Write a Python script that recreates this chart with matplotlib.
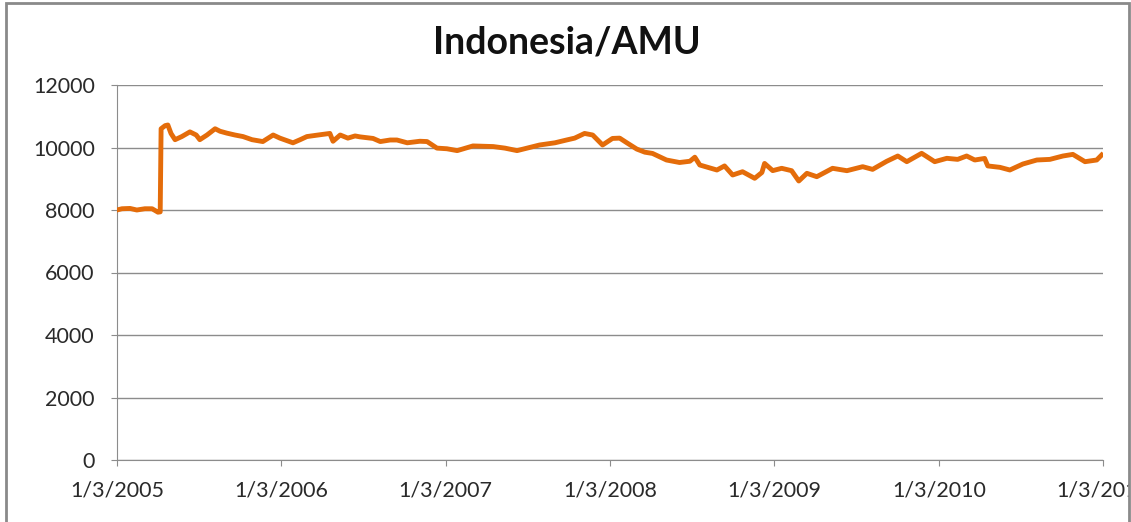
import matplotlib
matplotlib.use('Agg')
import matplotlib.pyplot as plt
from matplotlib.patches import Rectangle
import pandas as pd

## 값 (그림에서 읽은 대략적인 값)
dates = ['2005-01-03', '2005-01-14', '2005-02-01', '2005-02-16', '2005-03-06', '2005-03-22',
         '2005-04-04', '2005-04-09', '2005-04-11', '2005-04-20', '2005-04-26', '2005-05-03',
         '2005-05-12', '2005-05-27', '2005-06-14', '2005-06-28', '2005-07-06', '2005-07-22',
         '2005-08-09', '2005-08-20', '2005-09-04', '2005-09-22', '2005-10-10', '2005-10-30',
         '2005-11-23', '2005-12-16', '2005-12-31', '2006-01-29', '2006-02-14', '2006-03-01',
         '2006-03-26', '2006-04-21', '2006-04-28', '2006-05-14', '2006-05-31', '2006-06-16',
         '2006-06-27', '2006-07-26', '2006-08-11', '2006-09-02', '2006-09-17', '2006-10-10',
         '2006-11-07', '2006-11-23', '2006-12-15', '2007-01-06', '2007-01-29', '2007-03-05',
         '2007-04-19', '2007-05-15', '2007-06-11', '2007-07-31', '2007-09-03', '2007-09-29',
         '2007-10-17', '2007-11-08', '2007-11-26', '2007-12-18', '2008-01-09', '2008-01-25',
         '2008-02-10', '2008-03-03', '2008-03-21', '2008-04-07', '2008-05-08', '2008-06-06',
         '2008-06-29', '2008-07-10', '2008-07-21', '2008-08-28', '2008-09-14', '2008-10-02',
         '2008-10-24', '2008-11-20', '2008-12-06', '2008-12-12', '2008-12-30', '2009-01-19',
         '2009-02-10', '2009-02-26', '2009-03-16', '2009-04-07', '2009-05-12', '2009-06-13',
         '2009-07-18', '2009-08-09', '2009-09-09', '2009-10-04', '2009-10-24', '2009-11-26',
         '2009-12-25', '2010-01-21', '2010-02-14', '2010-03-06', '2010-03-24', '2010-04-15',
         '2010-04-22', '2010-05-19', '2010-06-10', '2010-07-09', '2010-08-09', '2010-09-07',
         '2010-10-06', '2010-10-28', '2010-11-24', '2010-12-20', '2010-12-31']
values = [8000, 8040, 8050, 8000, 8040, 8040,
          7930, 7940, 10600, 10700, 10720, 10450,
          10250, 10350, 10500, 10400, 10250, 10400,
          10600, 10520, 10460, 10400, 10350, 10250,
          10190, 10400, 10300, 10150, 10250, 10350,
          10400, 10450, 10200, 10400, 10300, 10370,
          10340, 10290, 10190, 10240, 10240, 10150,
          10200, 10190, 9980, 9960, 9900, 10050,
          10030, 9980, 9900, 10080, 10150, 10240,
          10300, 10450, 10400, 10080, 10290, 10300,
          10150, 9950, 9850, 9810, 9600, 9520,
          9560, 9690, 9440, 9280, 9410, 9120,
          9225, 9014, 9200, 9490, 9260, 9334,
          9258, 8928, 9174, 9066, 9334, 9258,
          9386, 9300, 9556, 9728, 9546, 9814,
          9546, 9654, 9620, 9728, 9600, 9650,
          9410, 9365, 9280, 9472, 9600, 9620,
          9728, 9780, 9546, 9600, 9760]

tick_dates = ['2005-01-03', '2006-01-03', '2007-01-03', '2008-01-03',
              '2009-01-03', '2010-01-03', '2011-01-03']
tick_labels = ['1/3/2005', '1/3/2006', '1/3/2007', '1/3/2008',
               '1/3/2009', '1/3/2010', '1/3/2011']
y_ticks = [0, 2000, 4000, 6000, 8000, 10000, 12000]

plt.rcParams['font.family'] = ['Lato', 'DejaVu Sans']

fig = plt.figure(figsize=(11.31, 5.22), dpi=100)
ax = fig.add_axes([117/1131, 1 - 460/522, (1103 - 117)/1131, (460 - 85)/522])

x = pd.to_datetime(dates)
ax.plot(x, values, color='#E46C0A', lw=3.5, solid_joinstyle='round', zorder=3)

ax.set_xlim(pd.Timestamp(tick_dates[0]), pd.Timestamp(tick_dates[-1]))
ax.set_ylim(0, 12000)
ax.set_xticks(pd.to_datetime(tick_dates))
ax.set_xticklabels(tick_labels)
ax.set_yticks(y_ticks)
ax.set_yticklabels([str(v) for v in y_ticks])

ax.grid(axis='y', color='#8c8c8c', lw=1)
ax.set_axisbelow(True)
for s in ['top', 'right']:
    ax.spines[s].set_visible(False)
for s in ['left', 'bottom']:
    ax.spines[s].set_color('#8c8c8c')
ax.tick_params(axis='both', colors='#8c8c8c', length=4, labelcolor='#2a2a2a', labelsize=15.5)
ax.tick_params(axis='x', pad=11)
ax.tick_params(axis='y', pad=12)

fig.text(567/1131, 1 - 42/522, 'Indonesia/AMU', ha='center', va='center',
         fontsize=27, fontweight='bold', color='#111111')

## 바깥 테두리
fig.add_artist(Rectangle((1129/1131, 0), 2/1131, 1, transform=fig.transFigure,
                         facecolor='white', edgecolor='none', zorder=10))
fig.add_artist(Rectangle((6/1131, -0.1), (1129 - 6)/1131, 1.1 - 3/522,
                         transform=fig.transFigure, fill=False,
                         edgecolor='#8a8a8a', lw=2, zorder=11))

fig.savefig('out.png', dpi=100)
